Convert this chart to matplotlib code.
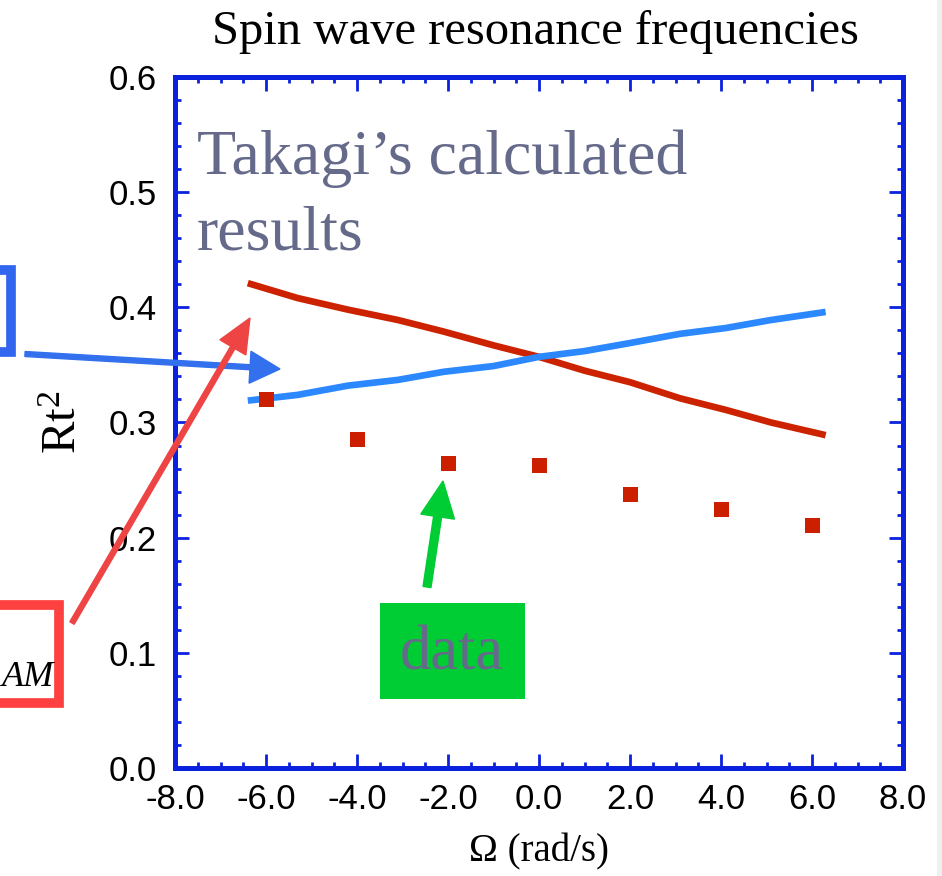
import matplotlib
matplotlib.use("Agg")
import matplotlib.pyplot as plt
from matplotlib.patches import FancyArrow, Rectangle
from matplotlib.ticker import MultipleLocator, FormatStrFormatter
from matplotlib.transforms import IdentityTransform

# Takagi's calculated curves
omega_calc = [-6.4, -5.3, -4.2, -3.1, -2.1, -1.0, 0.0, 1.0, 2.0, 3.1, 4.1, 5.1, 6.3]
rt2_blue = [0.319, 0.324, 0.332, 0.337, 0.344, 0.349, 0.357, 0.362, 0.369, 0.377, 0.382, 0.389, 0.396]
rt2_red = [0.421, 0.408, 0.398, 0.389, 0.379, 0.367, 0.357, 0.345, 0.335, 0.321, 0.311, 0.300, 0.289]

# measured points
omega_data = [-6, -4, -2, 0, 2, 4, 6]
rt2_data = [0.320, 0.286, 0.265, 0.263, 0.238, 0.225, 0.211]

W, H = 942, 876
serif = "Liberation Serif"
sans = "Liberation Sans"
spine_col = "#0a22dd"

plt.rcParams["mathtext.fontset"] = "custom"
plt.rcParams["mathtext.rm"] = serif
plt.rcParams["mathtext.it"] = serif + ":italic"

fig = plt.figure(figsize=(W / 100, H / 100), dpi=100)
ax = fig.add_axes([175 / W, 1 - 768 / H, (903 - 175) / W, (768 - 77) / H])

ax.plot(omega_calc, rt2_red, color="#cc2200", lw=4.8, solid_capstyle="butt")
ax.plot(omega_calc, rt2_blue, color="#2b88ff", lw=4.8, solid_capstyle="butt")
ax.plot(omega_data, rt2_data, "s", color="#cc1f00", ms=10.8, mew=0)

ax.set_xlim(-8, 8)
ax.set_ylim(0, 0.6)
ax.xaxis.set_major_locator(MultipleLocator(2))
ax.xaxis.set_minor_locator(MultipleLocator(0.5))
ax.yaxis.set_major_locator(MultipleLocator(0.1))
ax.yaxis.set_minor_locator(MultipleLocator(0.02))
ax.xaxis.set_major_formatter(FormatStrFormatter("%.1f"))
ax.yaxis.set_major_formatter(FormatStrFormatter("%.1f"))

for s in ax.spines.values():
    s.set_color(spine_col)
    s.set_linewidth(3.6)
ax.tick_params(which="both", direction="in", top=True, right=True, color=spine_col, width=2)
ax.tick_params(which="major", length=10)
ax.tick_params(which="minor", length=4.5)
ax.tick_params(axis="x", pad=11, labelsize=25)
ax.tick_params(axis="y", pad=13, labelsize=25)
for lab in ax.get_xticklabels() + ax.get_yticklabels():
    lab.set_fontfamily(sans)

ax.set_xlabel("Ω (rad/s)", fontsize=28, family=serif, labelpad=12)
ax.set_ylabel(r"$\mathrm{Rt}^{2}$", fontsize=35, labelpad=16)

fig.text(535 / W, 1 - 32 / H, "Spin wave resonance frequencies", fontsize=35,
         family=serif, ha="center", va="center")

# annotation text inside the plot
ax.text(197 / W, 1 - 174 / H, "Takagi’s calculated", transform=fig.transFigure,
        fontsize=46, family=serif, color="#666a8a", va="baseline")
ax.text(197 / W, 1 - 250 / H, "results", transform=fig.transFigure,
        fontsize=46, family=serif, color="#666a8a", va="baseline")

px = IdentityTransform()

# green "data" box and arrow
fig.patches.append(Rectangle((380, H - 699), 145, 96, facecolor="#00cc33",
                             edgecolor="none", transform=px, figure=fig))
fig.text(452 / W, 1 - 670 / H, "data", fontsize=45, family=serif,
         color="#666a8a", ha="center", va="baseline")
fig.patches.append(FancyArrow(427, H - 587, 443 - 427, -(481 - 587), width=8,
                              head_width=34, head_length=36, length_includes_head=True,
                              color="#00cc33", transform=px, figure=fig))

# blue box at the left edge (clipped)
fig.patches.append(Rectangle((-60, H - 352), 71, 82, facecolor="none",
                             edgecolor="#3366ee", lw=7, transform=px, figure=fig))
fig.patches.append(FancyArrow(25, H - 354, 280 - 25, -(369 - 354), width=5,
                              head_width=32, head_length=30, length_includes_head=True,
                              color="#3370ee", transform=px, figure=fig))

# red box at the left edge (clipped)
fig.patches.append(Rectangle((-60, H - 703), 119, 98, facecolor="none",
                             edgecolor="#ff4040", lw=7, transform=px, figure=fig))
fig.text(54 / W, 1 - 686 / H, "AM", fontsize=26, family=serif, style="italic",
         ha="right", va="baseline")
fig.patches.append(FancyArrow(72, H - 623, 250 - 72, -(318 - 623), width=5,
                              head_width=30, head_length=34, length_includes_head=True,
                              color="#ee4444", transform=px, figure=fig))

# light grey strip on the right edge
fig.patches.append(Rectangle((937, 0), 10, H, facecolor="#f0f0f0", edgecolor="none",
                             transform=px, figure=fig))

fig.savefig("out.png", dpi=100)
